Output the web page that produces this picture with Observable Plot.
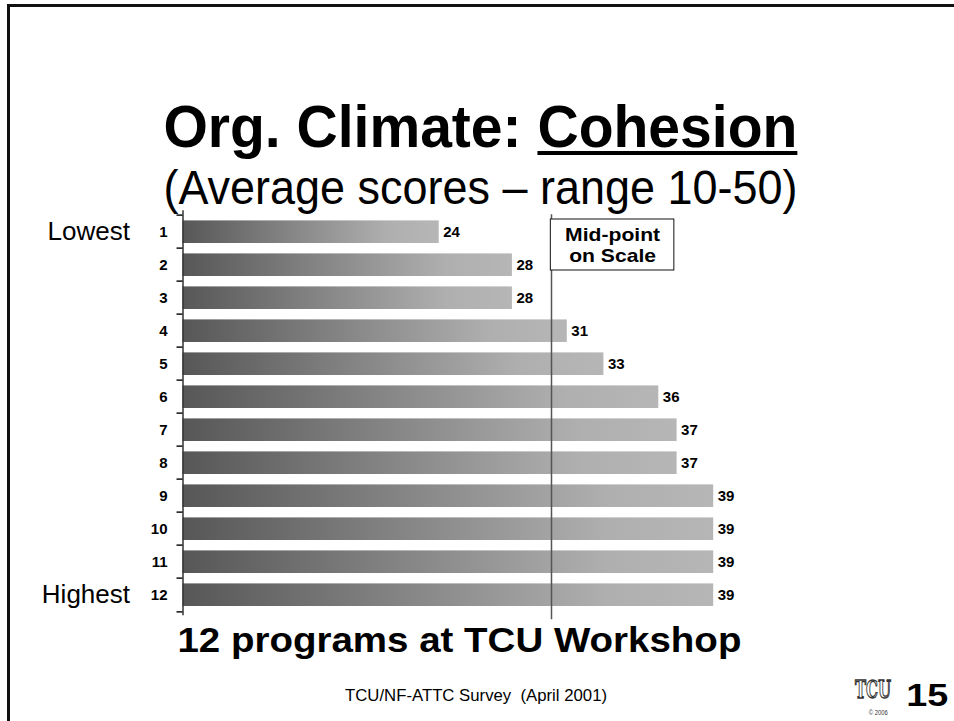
<!DOCTYPE html>
<html>
<head>
<meta charset="utf-8">
<script src="https://cdn.jsdelivr.net/npm/d3@7"></script>
<script src="https://cdn.jsdelivr.net/npm/@observablehq/plot@0.6"></script>
<style>
html, body { margin: 0; padding: 0; background: #fff; }
#page { position: relative; width: 954px; height: 721px; overflow: hidden; font-family: "Liberation Sans", Arial, sans-serif; color: #000; }
#frameTop { position: absolute; left: 7px; top: 4px; width: 947px; height: 2.5px; background: #111; }
#frameLeft { position: absolute; left: 7px; top: 4px; width: 2.5px; height: 717px; background: #111; }
.fit { position: absolute; white-space: nowrap; line-height: 1; transform-origin: center center; }
#title { font-family: "Liberation Sans Narrow", "Arial Narrow", "Liberation Sans", sans-serif; font-weight: bold; font-size: 60px; line-height: 0.9; }
#title u { text-decoration: underline; text-decoration-thickness: 4px; text-underline-offset: 4px; }
#subtitle { font-family: "Liberation Sans Narrow", "Arial Narrow", "Liberation Sans", sans-serif; font-size: 48px; line-height: 0.9; }
#xlabel { font-weight: bold; font-size: 35px; }
#footer { font-size: 17px; }
#pagenum { font-weight: bold; font-size: 31px; }
#logo { font-family: "DejaVu Serif", serif; font-weight: bold; font-size: 24px; color: #fff; -webkit-text-stroke: 1.3px #333; }
#copy { font-size: 7px; color: #333; }
#chart { position: absolute; left: 0; top: 200px; }
</style>
</head>
<body>
<div id="page">
  <div id="frameTop"></div>
  <div id="frameLeft"></div>
  <div id="title" class="fit">Org. Climate: <u>Cohesion</u></div>
  <div id="subtitle" class="fit">(Average scores – range 10-50)</div>
  <div id="chart"></div>
  <div id="xlabel" class="fit">12 programs at TCU Workshop</div>
  <div id="footer" class="fit">TCU/NF-ATTC Survey&nbsp; (April 2001)</div>
  <div id="logo" class="fit">TCU</div>
  <div id="copy" class="fit">© 2006</div>
  <div id="pagenum" class="fit">15</div>
</div>
<script>
// ---- data ----
const programs = ["1", "2", "3", "4", "5", "6", "7", "8", "9", "10", "11", "12"];
const scores = [24, 28, 28, 31, 33, 36, 37, 37, 39, 39, 39, 39];
const scaleRange = [10, 50];
const midpoint = 30;
const midpointLabel = "Mid-point\non Scale";
const rankLabels = ["Lowest", "Highest"];
const rankRows = ["1", "12"];

const data = programs.map((p, i) => ({program: p, score: scores[i]}));
const ranks = rankLabels.map((l, i) => ({label: l, row: rankRows[i]}));
const boxData = [{x1: midpoint + 0.1, x2: midpoint + 6.85, row: "1", label: midpointLabel}];

const band = (415.3 - 10.3) / programs.length;
const pxPerUnit = (954 - 39.5 - 182.5) / (scaleRange[1] - scaleRange[0]);

const chart = Plot.plot({
  width: 954,
  height: 430,
  marginTop: 10.3,
  marginBottom: 14.7,
  marginLeft: 182.5,
  marginRight: 39.5,
  style: {fontFamily: "'Liberation Sans', Arial, sans-serif", background: "transparent", overflow: "visible"},
  x: {domain: scaleRange, axis: null},
  y: {domain: programs, padding: 0, axis: null},
  marks: [
    Plot.barX(data, {x1: () => scaleRange[0], x2: "score", y: "program", fill: "url(#barGrad)", insetTop: 5.4, insetBottom: 5}),
    Plot.ruleX([midpoint], {stroke: "#555", strokeWidth: 1.5, dx: 2.5, dy: 4}),
    Plot.barX(boxData, {x1: "x1", x2: "x2", y: "row", fill: "white", stroke: "#111", strokeWidth: 1, insetTop: 4, insetBottom: -22}),
    Plot.text(boxData, {x: d => (d.x1 + d.x2) / 2, y: "row", text: "label", fontWeight: "bold", fontSize: 18, lineHeight: 1.12, dy: 13, fill: "#000"}),
    Plot.ruleX([scaleRange[0]], {stroke: "#333", strokeWidth: 1.5}),
    Plot.ruleY(programs, {y: d => d, x1: () => scaleRange[0] - 6 / pxPerUnit, x2: () => scaleRange[0], stroke: "#111", strokeWidth: 1.5, dy: -band / 2}),
    Plot.ruleY([programs[programs.length - 1]], {y: d => d, x1: () => scaleRange[0] - 6 / pxPerUnit, x2: () => scaleRange[0], stroke: "#111", strokeWidth: 1.5, dy: band / 2}),
    Plot.axisY({tickSize: 0, tickPadding: 15.5, fontWeight: "bold", fontSize: 15, fill: "#000", label: null}),
    Plot.text(data, {x: "score", y: "program", text: d => String(d.score), dx: 4, textAnchor: "start", fontWeight: "bold", fontSize: 15, fill: "#000"}),
    Plot.text(ranks, {x: () => scaleRange[0], y: "row", text: "label", textAnchor: "end", dx: -53, fontSize: 26, fill: "#000"})
  ]
});

// gradient for bars
const defs = d3.select(chart).insert("defs", ":first-child");
const grad = defs.append("linearGradient").attr("id", "barGrad").attr("x1", 0).attr("x2", 1).attr("y1", 0).attr("y2", 0);
grad.append("stop").attr("offset", "0%").attr("stop-color", "#575757");
grad.append("stop").attr("offset", "80%").attr("stop-color", "#afafaf");
grad.append("stop").attr("offset", "100%").attr("stop-color", "#b6b6b6");

document.getElementById("chart").appendChild(chart);

// widen the mid-point label horizontally to match the slide's wide lettering
d3.select(chart).selectAll("text").each(function() {
  if (!this.textContent.includes("Mid-point")) return;
  const bb = this.getBBox();
  const cx = bb.x + bb.width / 2;
  const s = 95 / bb.width;
  const old = this.getAttribute("transform") || "";
  this.setAttribute("transform", `${old} translate(${cx},0) scale(${s},1) translate(${-cx},0)`);
});

function fit(id, cx, top, targetW) {
  const el = document.getElementById(id);
  el.style.top = top + "px";
  el.style.left = "0px";
  const w = el.getBoundingClientRect().width;
  el.style.left = (cx - w / 2) + "px";
  el.style.transform = `scaleX(${targetW / w})`;
}
fit("title", 480, 100.2, 634);
fit("subtitle", 480, 166.3, 634);
fit("xlabel", 459, 622, 564);
fit("footer", 476, 687, 262);
fit("logo", 873, 678, 36);
fit("copy", 878, 709, 19);
fit("pagenum", 927, 680, 42);
</script>
</body>
</html>
